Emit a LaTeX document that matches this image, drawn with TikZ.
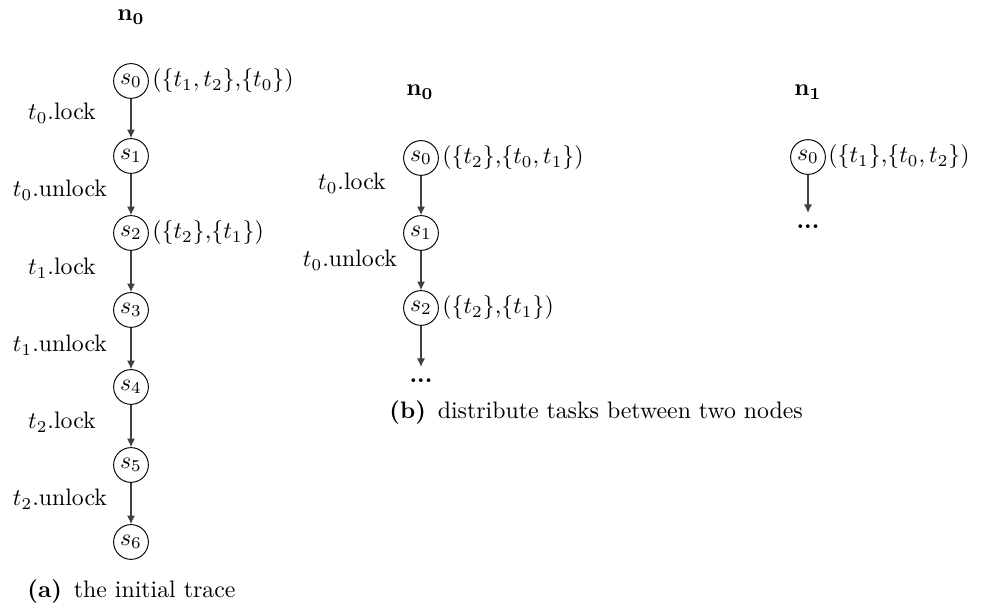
\documentclass[tikz,border=0pt]{standalone}
\usetikzlibrary{arrows.meta}
\begin{document}
\begin{tikzpicture}[x=0.42pt,y=-0.42pt,
  st/.style={circle,draw,minimum size=14.6pt,inner sep=0pt},
  ann/.style={anchor=west,inner sep=0pt},
  lab/.style={inner sep=0pt},
  edge/.style={draw=black!75,line width=0.5pt,-{Latex[length=3.6pt,width=3.4pt]}},
  capt/.style={anchor=west,inner sep=0pt}]
\useasboundingbox (0,0) rectangle (988,608);
% (a)
\node[lab] (na) at (131,17) {$\mathbf{n_0}$};
\node[st] (a0) at (131,81) {$s_0$};
\node[st] (a1) at (131,156) {$s_1$};
\node[st] (a2) at (131,233) {$s_2$};
\node[st] (a3) at (131,310) {$s_3$};
\node[st] (a4) at (131,387) {$s_4$};
\node[st] (a5) at (131,465) {$s_5$};
\node[st] (a6) at (131,542) {$s_6$};
\node[ann] (ana0) at (152,81) {$(\{t_1,t_2\}$,$\{t_0\})$};
\node[ann] (ana2) at (152,233) {$(\{t_2\}$,$\{t_1\})$};
\draw[edge] (a0) -- (a1);
\draw[edge] (a1) -- (a2);
\draw[edge] (a2) -- (a3);
\draw[edge] (a3) -- (a4);
\draw[edge] (a4) -- (a5);
\draw[edge] (a5) -- (a6);
\node[lab] (la1) at (62,113) {$t_0$.lock};
\node[lab] (la2) at (60,190) {$t_0$.unlock};
\node[lab] (la3) at (62,268) {$t_1$.lock};
\node[lab] (la4) at (60,345) {$t_1$.unlock};
\node[lab] (la5) at (62,422) {$t_2$.lock};
\node[lab] (la6) at (60,499) {$t_2$.unlock};
\node[capt] (capa) at (27,592) {\textbf{(a)}\enspace the initial trace};
% (b) node n0
\node[lab] (nb) at (420,92) {$\mathbf{n_0}$};
\node[st] (b0) at (421,158) {$s_0$};
\node[st] (b1) at (421,233) {$s_1$};
\node[st] (b2) at (421,308) {$s_2$};
\node[lab] (bd) at (421,381) {\textbf{...}};
\coordinate (bend) at (421,367);
\node[ann] (anb0) at (442,158) {$(\{t_2\}$,$\{t_0,t_1\})$};
\node[ann] (anb2) at (442,308) {$(\{t_2\}$,$\{t_1\})$};
\draw[edge] (b0) -- (b1);
\draw[edge] (b1) -- (b2);
\draw[edge] (b2) -- (bend);
\node[lab] (lb1) at (352,183) {$t_0$.lock};
\node[lab] (lb2) at (350,260) {$t_0$.unlock};
% (b) node n1
\node[lab] (nc) at (808,92) {$\mathbf{n_1}$};
\node[st] (c0) at (808,157) {$s_0$};
\node[lab] (cd) at (808,227) {\textbf{...}};
\coordinate (cend) at (808,213);
\node[ann] (anc0) at (828,157) {$(\{t_1\}$,$\{t_0,t_2\})$};
\draw[edge] (c0) -- (cend);
\node[capt] (capb) at (389,413) {\textbf{(b)}\enspace distribute tasks between two nodes};
\end{tikzpicture}
\end{document}
